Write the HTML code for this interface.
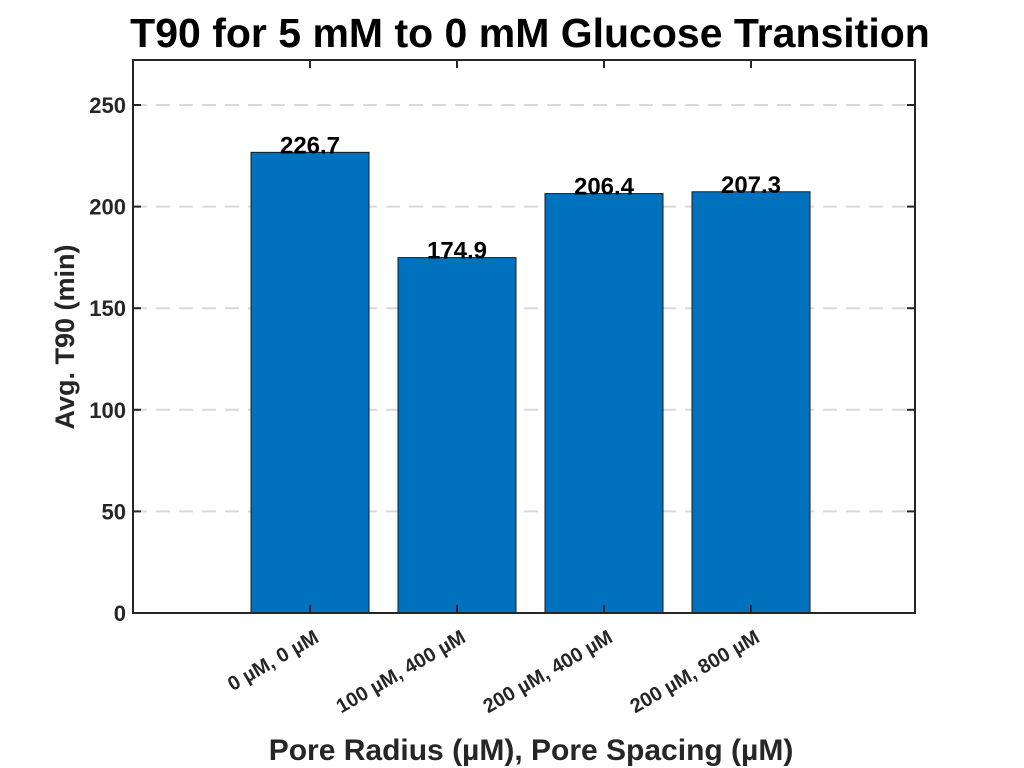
<!DOCTYPE html>
<html><head><meta charset="utf-8"><style>
body{margin:0;background:#fff;}
svg{display:block;font-family:"Liberation Sans",Arial,sans-serif;}
</style></head><body>
<svg id="chart" width="1024" height="768">
<text x="530" y="47" font-size="41" font-weight="bold" text-anchor="middle" fill="#000">T90 for 5 mM to 0 mM Glucose Transition</text>
<text transform="translate(74,337) rotate(-90)" font-size="27" font-weight="bold" text-anchor="middle" fill="#262626">Avg. T90 (min)</text>
<text x="531" y="760" font-size="30" font-weight="bold" text-anchor="middle" fill="#262626">Pore Radius (µM), Pore Spacing (µM)</text>
<g id="grid"></g><g id="bars"></g><g id="axes"></g>
</svg>
<script>
const categories=["0 µM, 0 µM","100 µM, 400 µM","200 µM, 400 µM","200 µM, 800 µM"];
const values=[226.7,174.9,206.4,207.3];
const valueLabels=["226.7","174.9","206.4","207.3"];
const yTicks=[0,50,100,150,200,250];
const NS="http://www.w3.org/2000/svg";
const L=133,R=915,T=60,B=613;
const y=v=>B-v*(508/250);
const x=i=>310+i*147;
const bw=118;
function mk(t,a,p){const e=document.createElementNS(NS,t);for(const k in a)e.setAttribute(k,a[k]);p.appendChild(e);return e;}
const grid=document.getElementById('grid'),bars=document.getElementById('bars'),axes=document.getElementById('axes');
yTicks.forEach(v=>{
 if(v>0){const g=mk('line',{x1:L,x2:R,y1:y(v),y2:y(v),stroke:'#d9d9d9','stroke-width':2,'stroke-dasharray':'14,9'},grid);
 
 }
 const tk=mk('line',{x1:L,x2:L+8,y1:y(v),y2:y(v),stroke:'#262626','stroke-width':2},axes);
 
 
 const tr=mk('line',{x1:R,x2:R-8,y1:y(v),y2:y(v),stroke:'#262626','stroke-width':2},axes);
 
 
 const t=mk('text',{x:L-7,y:y(v)+8,'font-size':22,'font-weight':'bold','text-anchor':'end',fill:'#262626'},axes);
 t.textContent=v;
 
 
});
values.forEach((v,i)=>{
 const r=mk('rect',{x:x(i)-bw/2,y:y(v),width:bw,height:B-y(v),fill:'#0072bd',stroke:'#1a1a1a','stroke-width':1},bars);
 
 
 const t=mk('text',{x:x(i),y:y(v)+1,'font-size':24,'font-weight':'bold','text-anchor':'middle',fill:'#000'},bars);
 t.textContent=valueLabels[i];
 
 
 const tb=mk('line',{x1:x(i),x2:x(i),y1:B,y2:B-8,stroke:'#262626','stroke-width':2},axes);
 
 
 const tt=mk('line',{x1:x(i),x2:x(i),y1:T,y2:T+8,stroke:'#262626','stroke-width':2},axes);
 
 
 const c=mk('text',{transform:`translate(${x(i)+10},${B+28}) rotate(-30)`,'font-size':20,'font-weight':'bold','text-anchor':'end',fill:'#262626'},axes);
 c.textContent=categories[i];
 
 
});
const box=mk('rect',{x:L,y:T,width:R-L,height:B-T,fill:'none',stroke:'#262626','stroke-width':2},axes);


</script>
</body></html>
